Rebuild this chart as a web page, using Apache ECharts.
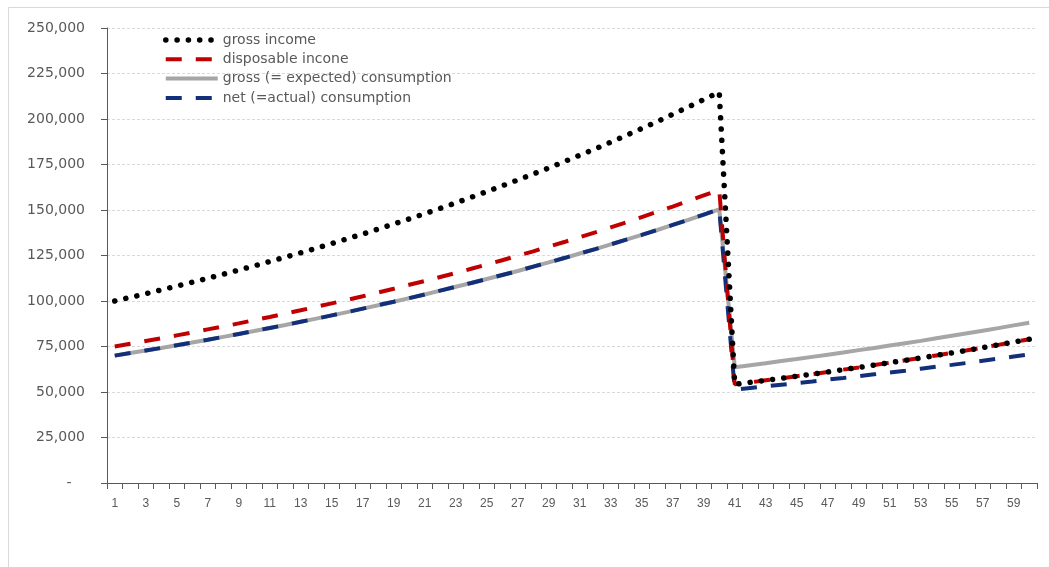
<!DOCTYPE html>
<html>
<head>
<meta charset="utf-8">
<script src="https://cdn.jsdelivr.net/npm/echarts@6/dist/echarts.min.js"></script>
<style>
  html, body { margin: 0; padding: 0; background: #ffffff; }
  #chart { width: 1049px; height: 567px; }
</style>
</head>
<body>
<div id="chart"></div>
<script>
// Periods 1..60
const periods = [];
for (let i = 1; i <= 60; i++) periods.push(String(i));

const grossIncome = [
  100000, 102000, 104000, 106100, 108200, 110300, 112500, 114700, 117000, 119300,
  121700, 124100, 126500, 129000, 131600, 134200, 136800, 139600, 142300, 145100,
  148000, 150900, 153900, 157000, 160100, 163300, 166500, 169800, 173100, 176600,
  180100, 183600, 187300, 191000, 194800, 198600, 202600, 206600, 210700, 214800,
  54200, 55300, 56400, 57500, 58700, 59800, 61000, 62300, 63500, 64800,
  66100, 67400, 68700, 70100, 71500, 72900, 74400, 75900, 77400, 79000
];

const disposableIncome = [
  75000, 76500, 78000, 79500, 81100, 82700, 84400, 86000, 87700, 89500,
  91200, 93100, 94900, 96800, 98700, 100600, 102600, 104700, 106700, 108900,
  111000, 113200, 115400, 117700, 120100, 122400, 124900, 127300, 129900, 132400,
  135100, 137700, 140500, 143200, 146100, 149000, 151900, 154900, 158000, 161100,
  54200, 55300, 56400, 57500, 58700, 59800, 61000, 62300, 63500, 64800,
  66100, 67400, 68700, 70100, 71500, 72900, 74400, 75900, 77400, 79000
];

const grossConsumption = [
  70000, 71400, 72800, 74200, 75700, 77200, 78700, 80300, 81900, 83500,
  85200, 86800, 88600, 90300, 92100, 93900, 95800, 97700, 99600, 101600,
  103600, 105700, 107800, 109900, 112100, 114300, 116500, 118900, 121200, 123600,
  126100, 128500, 131100, 133700, 136300, 139000, 141800, 144600, 147500, 150400,
  63600, 64700, 65800, 67000, 68100, 69300, 70500, 71700, 73000, 74200,
  75500, 76800, 78100, 79500, 80900, 82300, 83700, 85100, 86600, 88100
];

const netConsumption = [
  70000, 71400, 72800, 74200, 75700, 77200, 78700, 80300, 81900, 83500,
  85200, 86800, 88600, 90300, 92100, 93900, 95800, 97700, 99600, 101600,
  103600, 105700, 107800, 109900, 112100, 114300, 116500, 118900, 121200, 123600,
  126100, 128500, 131100, 133700, 136300, 139000, 141800, 144600, 147500, 150400,
  51300, 52200, 53100, 54000, 54900, 55800, 56800, 57700, 58700, 59700,
  60700, 61700, 62800, 63900, 64900, 66000, 67200, 68300, 69500, 70700
];

const seriesNames = [
  'gross income',
  'disposable incone',
  'gross (= expected) consumption',
  'net (=actual) consumption'
];

const axisColor = '#595959';
const textColor = '#595959';

// Line looks shared by the plotted series and their legend icons
const styles = {
  grossIncome: { color: '#000000', width: 5.5, type: [0.1, 11.2], cap: 'round' },
  disposable: { color: '#c00000', width: 4, type: [16, 14], cap: 'butt' },
  grossCons: { color: '#a6a6a6', width: 4, type: 'solid', cap: 'butt' },
  netCons: { color: '#12307a', width: 4, type: [16, 14], cap: 'butt' }
};

const hiddenSymbol = { opacity: 0 };

const chart = echarts.init(document.getElementById('chart'), null, { renderer: 'canvas' });

chart.setOption({
  backgroundColor: '#ffffff',
  animation: false,
  graphic: [{
    type: 'rect',
    silent: true,
    z: -10,
    shape: { x: 8.5, y: 7.5, width: 1100, height: 620 },
    style: { fill: 'none', stroke: '#d9d9d9', lineWidth: 1 }
  }],
  grid: { left: 107, right: 12, top: 28, bottom: 84, containLabel: false },
  legend: {
    orient: 'vertical',
    left: 163,
    top: 33,
    padding: 0,
    itemWidth: 52,
    itemHeight: 14,
    itemGap: 5.3,
    data: [
      { name: seriesNames[0], lineStyle: styles.grossIncome, itemStyle: hiddenSymbol },
      { name: seriesNames[1], lineStyle: styles.disposable, itemStyle: hiddenSymbol },
      { name: seriesNames[2], lineStyle: styles.grossCons, itemStyle: hiddenSymbol },
      { name: seriesNames[3], lineStyle: styles.netCons, itemStyle: hiddenSymbol }
    ],
    textStyle: { color: textColor, fontFamily: 'DejaVu Sans', fontSize: 14 },
    selectedMode: false
  },
  xAxis: {
    type: 'category',
    data: periods,
    boundaryGap: true,
    axisLine: { lineStyle: { color: axisColor, width: 1 } },
    axisTick: { show: true, interval: 0, length: 6, lineStyle: { color: axisColor } },
    axisLabel: {
      interval: 1,
      margin: 15,
      color: textColor,
      fontFamily: 'Liberation Sans',
      fontSize: 12
    },
    splitLine: { show: false }
  },
  yAxis: {
    type: 'value',
    min: 0,
    max: 250000,
    interval: 25000,
    axisLine: { show: true, lineStyle: { color: axisColor, width: 1 } },
    axisTick: { show: true, length: 6, lineStyle: { color: axisColor } },
    axisLabel: {
      margin: 22,
      color: textColor,
      fontFamily: 'DejaVu Sans',
      fontSize: 14,
      formatter: v => v === 0 ? '-   ' : v.toLocaleString('en-US')
    },
    splitLine: { show: true, lineStyle: { color: '#d9d9d9', width: 1, type: [3, 2] } }
  },
  series: [
    {
      name: seriesNames[2],
      type: 'line',
      data: grossConsumption,
      symbol: 'none',
      z: 2,
      lineStyle: styles.grossCons,
      itemStyle: { color: styles.grossCons.color }
    },
    {
      name: seriesNames[3],
      type: 'line',
      data: netConsumption,
      symbol: 'none',
      z: 3,
      lineStyle: styles.netCons,
      itemStyle: { color: styles.netCons.color }
    },
    {
      name: seriesNames[1],
      type: 'line',
      data: disposableIncome,
      symbol: 'none',
      z: 4,
      lineStyle: styles.disposable,
      itemStyle: { color: styles.disposable.color }
    },
    {
      name: seriesNames[0],
      type: 'line',
      data: grossIncome,
      symbol: 'none',
      z: 5,
      lineStyle: styles.grossIncome,
      itemStyle: { color: styles.grossIncome.color }
    }
  ]
});
</script>
</body>
</html>
